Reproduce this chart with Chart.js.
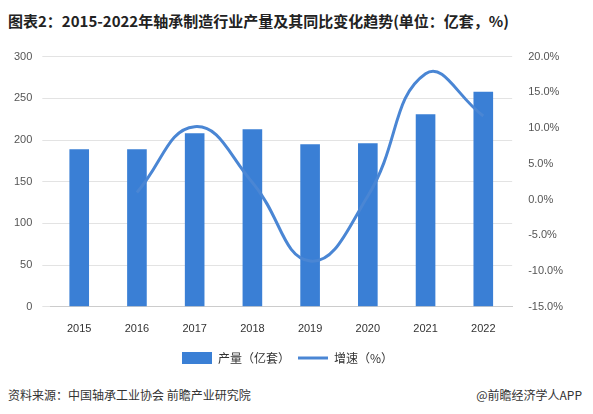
<!DOCTYPE html>
<html><head><meta charset="utf-8">
<script src="https://cdn.jsdelivr.net/npm/chart.js@4"></script>
<style>
body{margin:0;width:593px;height:414px;background:#fff;font-family:"Noto Sans CJK SC","Noto Sans",sans-serif;position:relative;overflow:hidden}
#t{position:absolute;left:8px;top:10px;font-size:15px;font-weight:bold;color:#222}
#f{position:absolute;left:8px;top:386px;font-size:12px;color:#333;width:580px}
#f span{position:absolute;right:6px}
#c{position:absolute;left:0;top:40px}
</style></head><body>
<div id="t">图表2：2015-2022年轴承制造行业产量及其同比变化趋势(单位：亿套，%)</div>
<div id="c"><canvas id="cv" width="593" height="334"></canvas></div>
<div id="f">资料来源：中国轴承工业协会 前瞻产业研究院<span>@前瞻经济学人APP</span></div>
<script>
const years=["2015","2016","2017","2018","2019","2020","2021","2022"];
const output=[189,189,208,213,195,196,231,258];
const growth=[null,1.0,10.2,2.4,-8.6,0.5,17.6,11.7];
new Chart(document.getElementById('cv'),{
 data:{labels:years,datasets:[
  {type:'line',label:'增速（%）',data:growth,yAxisID:'y1',borderColor:'#4a86d4',borderWidth:3,pointRadius:0,pointStyle:'line',tension:0.45,fill:false,order:0},
  {type:'bar',label:'产量（亿套）',data:output,yAxisID:'y',backgroundColor:'#3a7fd5',pointStyle:'rect',barPercentage:0.4,categoryPercentage:0.85,order:1}
 ]},
 options:{responsive:false,animation:false,
  layout:{padding:{left:4,right:22,top:14,bottom:0}},
  plugins:{legend:{position:'bottom',labels:{usePointStyle:true,pointStyleWidth:30,boxHeight:12,padding:8,font:{size:12,family:"Noto Sans CJK SC"},color:'#333'},reverse:true},tooltip:{enabled:false}},
  scales:{
   x:{grid:{display:false},border:{color:'#ccc'},ticks:{color:'#333',font:{size:11},padding:8}},
   y:{min:0,max:300,ticks:{stepSize:50,color:'#555',font:{size:11},padding:10},grid:{color:'#e3e3e3'},border:{display:false}},
   y1:{position:'right',min:-15,max:20,ticks:{stepSize:5,color:'#555',font:{size:11},padding:8,callback:v=>v.toFixed(1)+'%'},grid:{display:false},border:{display:false}}
  }}
});
</script></body></html>
